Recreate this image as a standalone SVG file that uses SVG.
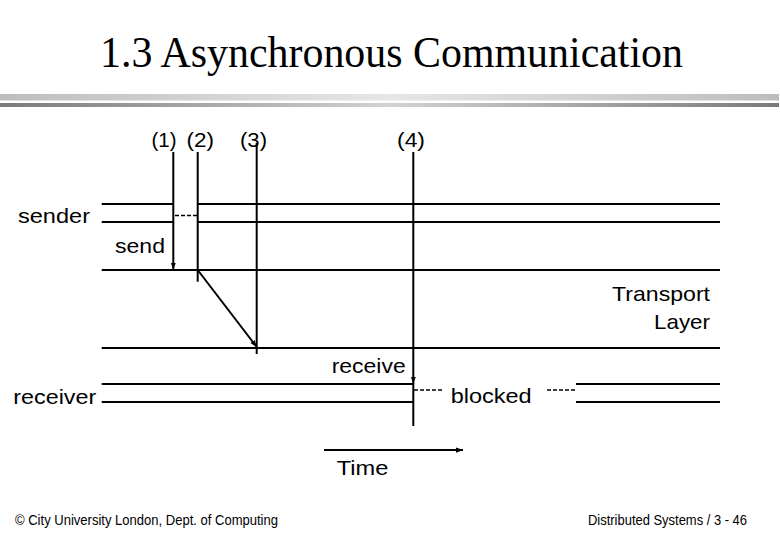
<svg xmlns="http://www.w3.org/2000/svg" width="780" height="540" viewBox="0 0 780 540">
<defs>
<linearGradient id="gLight" x1="0" y1="0" x2="1" y2="0">
<stop offset="0" stop-color="#bdbdbd"/><stop offset="0.5" stop-color="#e6e6e6"/><stop offset="1" stop-color="#bdbdbd"/>
</linearGradient>
<linearGradient id="gDark" x1="0" y1="0" x2="1" y2="0">
<stop offset="0" stop-color="#7a7a7a"/><stop offset="0.5" stop-color="#d2d2d2"/><stop offset="1" stop-color="#7a7a7a"/>
</linearGradient>
<marker id="arr" viewBox="0 0 8 6" refX="8" refY="3" markerWidth="7" markerHeight="6" markerUnits="userSpaceOnUse" orient="auto">
<path d="M0,0 L8,3 L0,6 z" fill="#000"/>
</marker>
<style>
.ln{stroke:#000;stroke-width:2;fill:none}
.dash{stroke:#000;stroke-width:1.5;stroke-dasharray:4 2;fill:none}
.lbl{font-family:"Liberation Sans",Arial,sans-serif;font-size:21px;fill:#000}
.foot{font-family:"Liberation Sans",Arial,sans-serif;font-size:14.5px;fill:#000}
.title{font-family:"Liberation Serif","Times New Roman",serif;font-size:44px;fill:#000}
</style>
</defs>
<rect width="780" height="540" fill="#fff"/>
<g id="title">
<text class="title" x="100" y="67" textLength="583" lengthAdjust="spacingAndGlyphs">1.3 Asynchronous Communication</text>
</g>
<g id="header-bars">
<rect x="0" y="94" width="779" height="6.5" fill="url(#gLight)"/>
<rect x="0" y="103" width="779" height="4" fill="url(#gDark)"/>
</g>
<g id="layers">
<g id="sender">
<path class="ln" d="M101.7,204H173.3M197.7,204H720M101.7,222H173.3M197.7,222H720"/>
<path class="dash" d="M175,215.5H197"/>
<text class="lbl" x="18" y="223" textLength="72" lengthAdjust="spacingAndGlyphs">sender</text>
</g>
<g id="transport-layer">
<path class="ln" d="M101.7,270H720M101.7,348H720"/>
<text class="lbl" x="612" y="301" textLength="98" lengthAdjust="spacingAndGlyphs">Transport</text>
<text class="lbl" x="654" y="329" textLength="56" lengthAdjust="spacingAndGlyphs">Layer</text>
</g>
<g id="receiver">
<path class="ln" d="M101.7,384H413.3M576,384H720M101.7,402H413.3M576,402H720"/>
<path class="dash" d="M414,390H443M547,390H575"/>
<text class="lbl" x="13.3" y="404" textLength="83" lengthAdjust="spacingAndGlyphs">receiver</text>
<text class="lbl" x="450.7" y="403" textLength="81" lengthAdjust="spacingAndGlyphs">blocked</text>
</g>
</g>
<g id="labels">
<text class="lbl" x="151.5" y="147" textLength="25" lengthAdjust="spacingAndGlyphs">(1)</text>
<text class="lbl" x="186.5" y="147" textLength="27.5" lengthAdjust="spacingAndGlyphs">(2)</text>
<text class="lbl" x="240" y="147" textLength="27" lengthAdjust="spacingAndGlyphs">(3)</text>
<text class="lbl" x="397" y="147" textLength="28" lengthAdjust="spacingAndGlyphs">(4)</text>
<text class="lbl" x="115" y="253" textLength="50" lengthAdjust="spacingAndGlyphs">send</text>
<text class="lbl" x="331.7" y="373" textLength="74" lengthAdjust="spacingAndGlyphs">receive</text>
<text class="lbl" x="336.7" y="475" textLength="51.6" lengthAdjust="spacingAndGlyphs">Time</text>
</g>
<g id="connectors">
<path class="ln" d="M173.3,152V269.5" marker-end="url(#arr)"/>
<path class="ln" d="M197.7,152V281.7"/>
<path class="ln" d="M256.7,143V354"/>
<path class="ln" d="M413.3,152V383.5" marker-end="url(#arr)"/>
<path class="ln" d="M413.3,383V426"/>
<path class="ln" d="M197.7,270L256.7,347" marker-end="url(#arr)"/>
<path class="ln" d="M324,450H463" marker-end="url(#arr)"/>
</g>
<g id="footer">
<text class="foot" x="15" y="525" textLength="263" lengthAdjust="spacingAndGlyphs">© City University London, Dept. of Computing</text>
<text class="foot" x="588" y="525" textLength="159" lengthAdjust="spacingAndGlyphs">Distributed Systems / 3 - 46</text>
</g>
</svg>
